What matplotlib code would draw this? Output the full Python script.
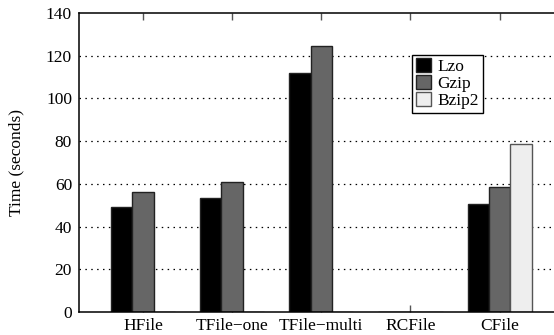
import matplotlib.pyplot as plt
import numpy as np

formats = ['HFile', 'TFile\u2212one', 'TFile\u2212multi', 'RCFile', 'CFile']
lzo = [49.2, 53.4, 111.9, 0, 50.4]
gzip = [56.3, 61.0, 124.7, 0, 58.5]
bzip2 = [0, 0, 0, 0, 78.5]
grid_levels = [20, 40, 60, 80, 100, 120]

plt.rcParams['font.family'] = ['Liberation Serif', 'DejaVu Serif']
plt.rcParams['font.size'] = 12.5

fig = plt.figure(figsize=(5.54, 3.35), dpi=100)
ax = fig.add_axes([0.1426, 0.0687, 0.8574, 0.8923])

x = np.arange(len(formats))
w = 0.24
ax.bar(x - w, lzo, w, color='black', edgecolor='#222222', linewidth=1, label='Lzo', zorder=3)
ax.bar(x, gzip, w, color='#666666', edgecolor='#222222', linewidth=1, label='Gzip', zorder=3)
ax.bar(x + w, bzip2, w, color='#eeeeee', edgecolor='#555555', linewidth=1, label='Bzip2', zorder=3)

# dotted grid only between the bottom and top frame
for g in grid_levels:
    ax.axhline(g, linestyle=(0, (1.2, 3.5)), color='black', linewidth=0.9, zorder=0)

ax.set_xlim(-0.717, 4.61)
ax.set_ylim(0, 140)
ax.set_yticks(range(0, 141, 20))
ax.set_xticks(x)
ax.set_xticklabels(formats)
ax.set_ylabel('Time (seconds)')
ax.yaxis.set_label_coords(-0.115, 0.5)

ax.tick_params(axis='x', direction='in', top=True, length=5, width=1, color='#555555', pad=4.5)
ax.tick_params(axis='y', direction='in', length=0, pad=5)
ax.spines['right'].set_visible(False)
for s in ['left', 'top', 'bottom']:
    ax.spines[s].set_linewidth(1.1)
    ax.spines[s].set_zorder(4)

leg = ax.legend(loc='upper left', bbox_to_anchor=(0.702, 0.86), frameon=True, fancybox=False,
                edgecolor='black', framealpha=1, borderpad=0.2, labelspacing=0.0,
                handlelength=0.85, handleheight=0.85, handletextpad=0.4, borderaxespad=0)
leg.get_frame().set_linewidth(1)
leg.set_zorder(5)

plt.savefig('out.png')
